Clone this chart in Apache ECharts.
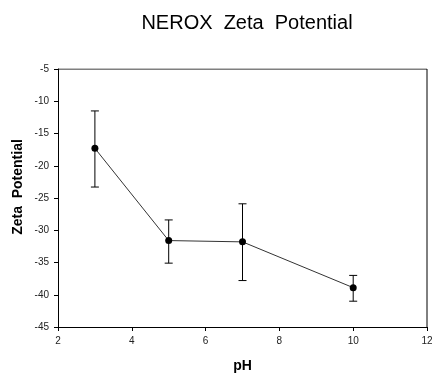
<!DOCTYPE html>
<html>
<head>
<meta charset="utf-8">
<script src="https://cdn.jsdelivr.net/npm/echarts@6/dist/echarts.min.js"></script>
<style>
  html, body { margin: 0; padding: 0; background: #fff; }
  #chart { width: 432px; height: 376px; }
</style>
</head>
<body>
<div id="chart"></div>
<script>
const phValues = [3, 5, 7, 10];
const zetaMean = [-17.3, -31.6, -31.8, -38.9];
const zetaUpper = [-11.5, -28.4, -25.9, -37.0];
const zetaLower = [-23.3, -35.1, -37.8, -41.0];

const chart = echarts.init(document.getElementById("chart"));
const font = "Liberation Sans, Arial, sans-serif";
const axisColor = "#000";

chart.setOption({
  animation: false,
  title: {
    text: "NEROX  Zeta  Potential",
    left: 242,
    top: 8,
    textAlign: "center",
    textStyle: { fontFamily: font, fontSize: 20, fontWeight: "normal", color: "#000" },
  },
  graphic: [
    {
      // y axis title sits a little above the plot's middle in the original
      type: "text",
      x: 18,
      y: 187,
      rotation: Math.PI / 2,
      style: {
        text: "Zeta  Potential",
        font: "bold 14px Liberation Sans, Arial, sans-serif",
        fill: "#000",
        align: "center",
        verticalAlign: "middle",
      },
    },
  ],
  grid: { left: 58, right: 5, top: 69, bottom: 49, containLabel: false, outerBoundsMode: "none" },
  xAxis: {
    type: "value",
    min: 2,
    max: 12,
    interval: 2,
    name: "pH",
    nameLocation: "middle",
    nameGap: 32,
    nameTextStyle: { fontFamily: font, fontSize: 14, fontWeight: "bold", color: "#000" },
    axisLine: { show: true, onZero: false, lineStyle: { color: axisColor, width: 1 } },
    axisTick: { show: true, inside: false, length: 4, lineStyle: { color: axisColor } },
    axisLabel: { fontFamily: font, fontSize: 10, color: "#222", margin: 9 },
    splitLine: { show: false },
  },
  yAxis: {
    type: "value",
    min: -45,
    max: -5,
    interval: 5,
    axisLine: { show: true, onZero: false, lineStyle: { color: axisColor, width: 1 } },
    axisTick: { show: true, inside: false, length: 4, lineStyle: { color: axisColor } },
    axisLabel: { fontFamily: font, fontSize: 10, color: "#222", margin: 9 },
    splitLine: { show: false },
  },
  series: [
    {
      // plot frame (top + right edges)
      type: "line",
      data: [[2, -5], [12, -5], [12, -45]],
      symbol: "none",
      lineStyle: { color: "#000", width: 1 },
      silent: true,
      z: 1,
    },
    {
      type: "line",
      data: phValues.map((x, i) => [x, zetaMean[i]]),
      symbol: "circle",
      symbolSize: 7,
      itemStyle: { color: "#000" },
      lineStyle: { color: "#333", width: 1 },
      z: 3,
    },
    {
      type: "custom",
      data: phValues.map((x, i) => [x, zetaLower[i], zetaUpper[i]]),
      renderItem: (params, api) => {
        const lo = api.coord([api.value(0), api.value(1)]);
        const hi = api.coord([api.value(0), api.value(2)]);
        const w = 4;
        const style = { stroke: "#000", lineWidth: 1 };
        return {
          type: "group",
          children: [
            { type: "line", shape: { x1: lo[0], y1: lo[1], x2: hi[0], y2: hi[1] }, style },
            { type: "line", shape: { x1: lo[0] - w, y1: lo[1], x2: lo[0] + w, y2: lo[1] }, style },
            { type: "line", shape: { x1: hi[0] - w, y1: hi[1], x2: hi[0] + w, y2: hi[1] }, style },
          ],
        };
      },
      z: 2,
    },
  ],
});
</script>
</body>
</html>
